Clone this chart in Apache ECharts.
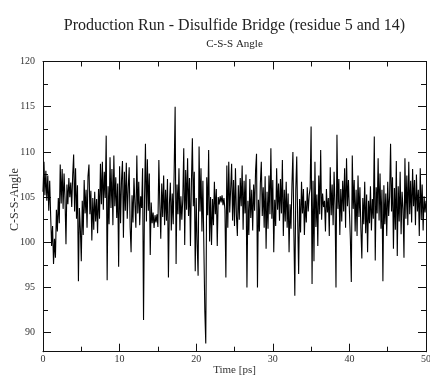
<!DOCTYPE html>
<html>
<head>
<meta charset="utf-8">
<script src="https://cdn.jsdelivr.net/npm/echarts@6/dist/echarts.min.js"></script>
<style>
html,body{margin:0;padding:0;background:#fff;}
#chart{width:430px;height:376px;}
</style>
</head>
<body>
<div id="chart"></div>
<script>
// C-S-S angle, sampled every 0.125 ns (8 samples per row = 1 ns)
const timeStep = 0.125;
const angle = [
105.6,108.9,105.2,107.9,104.6,107.4,103.5,106.8,
102.9,99.6,101.8,97.6,100.4,98.3,103.6,101.2,
104.9,102.1,108.6,104.3,108.1,103.7,107.6,104.8,
99.8,106.4,104.2,107.1,105.0,106.6,103.9,107.4,
109.7,103.4,108.2,102.6,106.3,95.7,103.8,101.5,
97.9,104.6,100.8,106.9,103.2,105.8,101.6,107.3,
108.6,103.1,105.7,100.2,104.9,101.4,105.6,102.3,
104.8,101.0,105.9,102.6,108.7,104.2,108.9,103.6,
107.8,104.9,111.8,95.8,106.2,102.0,109.4,103.8,
108.1,101.9,109.6,104.0,107.2,102.7,106.5,97.3,
108.4,102.1,106.9,109.0,100.5,107.8,103.5,108.8,
102.6,106.0,108.3,101.7,98.9,105.2,102.2,107.1,
104.3,101.6,109.6,103.2,106.7,101.9,105.1,103.8,
108.2,91.4,104.6,110.9,102.3,109.2,103.5,107.6,
98.6,104.4,102.1,103.3,101.6,103.0,102.2,103.1,
101.7,109.1,104.3,100.4,106.5,102.8,107.4,101.9,
105.8,102.4,107.0,96.1,104.2,106.6,101.3,105.4,
102.0,107.9,115.0,97.6,106.4,103.1,108.2,101.3,
105.1,102.5,104.8,110.4,99.7,108.0,103.6,109.3,
102.9,107.1,99.6,106.5,111.5,104.0,107.8,96.8,
104.9,99.8,96.3,110.6,103.4,108.2,101.2,106.8,
99.5,92.4,88.8,107.2,103.0,110.2,100.1,105.0,
99.7,104.8,101.9,106.7,103.1,105.9,99.6,105.0,
104.2,105.1,104.4,105.2,104.1,104.9,103.6,96.1,
108.5,101.6,108.9,103.3,105.9,108.7,102.4,106.9,
101.8,108.2,103.0,100.7,106.3,102.5,107.1,104.0,
108.5,101.4,106.8,103.2,107.5,95.0,104.6,100.8,
107.0,102.7,105.8,101.3,106.4,103.5,107.9,109.8,
95.0,104.7,101.2,106.5,108.9,102.9,106.1,101.6,
107.3,99.3,105.6,101.5,107.4,103.1,110.4,102.6,
106.9,98.9,104.7,101.8,108.2,103.6,106.5,102.4,
107.0,103.2,109.1,100.7,105.8,102.3,106.7,101.6,
105.4,98.9,104.2,101.5,106.3,110.0,101.2,94.1,
105.8,109.5,102.4,96.5,104.8,101.1,106.7,103.2,
105.9,100.8,104.6,102.2,106.1,103.4,105.2,106.0,
112.8,95.4,106.8,97.9,108.9,101.7,105.3,99.6,
107.4,103.1,110.2,102.5,105.4,103.9,104.6,101.2,
105.9,103.3,104.9,100.7,108.3,103.0,106.4,101.9,
107.8,104.1,95.0,111.9,103.7,107.0,100.8,105.9,
102.3,106.8,103.4,108.2,101.6,109.3,104.0,106.9,
103.5,100.4,95.6,109.6,103.7,106.9,101.2,105.8,
100.7,107.4,102.8,106.1,101.5,98.2,104.9,102.0,
106.7,101.0,105.3,98.9,104.6,102.1,106.2,101.3,
104.8,102.6,111.7,98.0,106.1,103.2,109.3,102.4,
107.6,101.5,105.8,95.7,106.3,102.0,105.4,100.7,
106.7,102.9,105.1,110.9,103.4,107.2,99.3,106.0,
101.4,109.0,98.5,106.2,102.3,107.8,100.9,105.6,
103.7,98.3,109.3,102.6,107.4,101.9,108.9,103.1,
106.8,102.2,108.1,104.0,106.9,101.9,107.5,103.4,
105.8,100.7,108.2,102.5,106.4,101.3,105.1,103.3,
104.6
];
const yMajorTicks = [90, 95, 100, 105, 110, 115, 120];
const yMinorTicks = [92.5, 97.5, 102.5, 107.5, 112.5, 117.5];
const titleText = 'Production Run - Disulfide Bridge (residue 5 and 14)';
const subtitleText = 'C-S-S Angle';
const xName = 'Time [ps]';
const yName = 'C-S-S-Angle';

const seriesData = angle.map((v, i) => [i * timeStep, v]);

const FONT = '"Liberation Serif", "DejaVu Serif", serif';
const AX = '#111';
const YMIN = 87.9, YMAX = 120;

const chart = echarts.init(document.getElementById('chart'), null, {renderer: 'canvas'});
const yBase = (pos, ticks, len, labels) => ({
  type: 'value', position: pos, min: YMIN, max: YMAX,
  axisLine: {show: true, onZero: false, lineStyle: {color: AX, width: 1}},
  axisTick: {show: true, inside: true, length: len, customValues: ticks, lineStyle: {color: AX, width: 1}},
  axisLabel: labels ? {show: true, customValues: ticks, margin: 8, fontFamily: FONT, fontSize: 10, color: '#333'} : {show: false},
  splitLine: {show: false}
});
chart.setOption({
  animation: false,
  backgroundColor: '#fff',
  title: [
    {text: titleText, left: 234.5, top: 18, textAlign: 'center', padding: 0,
     textStyle: {fontFamily: FONT, fontSize: 16, fontWeight: 'normal', color: '#222'}},
    {text: subtitleText, left: 234.5, top: 39, textAlign: 'center', padding: 0,
     textStyle: {fontFamily: FONT, fontSize: 11, fontWeight: 'normal', color: '#222'}}
  ],
  grid: {left: 43, right: 4, top: 61.5, bottom: 24.3, containLabel: false, outerBoundsMode: 'none'},
  xAxis: [
    {type: 'value', position: 'bottom', min: 0, max: 50, interval: 10,
     name: xName, nameLocation: 'middle', nameGap: 13, nameMoveOverlap: false,
     nameTextStyle: {fontFamily: FONT, fontSize: 11, color: '#333'},
     axisLine: {show: true, onZero: false, lineStyle: {color: AX, width: 1}},
     axisTick: {show: true, inside: true, length: 8, lineStyle: {color: AX}},
     minorTick: {show: true, splitNumber: 2, length: 5, lineStyle: {color: AX}},
     axisLabel: {margin: 3, fontFamily: FONT, fontSize: 10, color: '#333'},
     splitLine: {show: false}},
    {type: 'value', position: 'top', min: 0, max: 50, interval: 10,
     axisLine: {show: true, onZero: false, lineStyle: {color: AX, width: 1}},
     axisTick: {show: true, inside: true, length: 8, lineStyle: {color: AX}},
     minorTick: {show: true, splitNumber: 2, length: 5, lineStyle: {color: AX}},
     axisLabel: {show: false}, splitLine: {show: false}}
  ],
  yAxis: [
    Object.assign(yBase('left', yMajorTicks, 8, true), {
      name: yName, nameLocation: 'middle', nameGap: 22, nameRotate: 90, nameMoveOverlap: false,
      nameTextStyle: {fontFamily: FONT, fontSize: 12, color: '#333', padding: [0, 0, 0, 14]}
    }),
    yBase('left', yMinorTicks, 5, false),
    yBase('right', yMajorTicks, 8, false),
    yBase('right', yMinorTicks, 5, false)
  ],
  series: [{
    type: 'line', xAxisIndex: 0, yAxisIndex: 0, data: seriesData,
    showSymbol: false, symbol: 'none',
    lineStyle: {color: '#000', width: 1.1}, silent: true
  }]
});
</script>
</body>
</html>
